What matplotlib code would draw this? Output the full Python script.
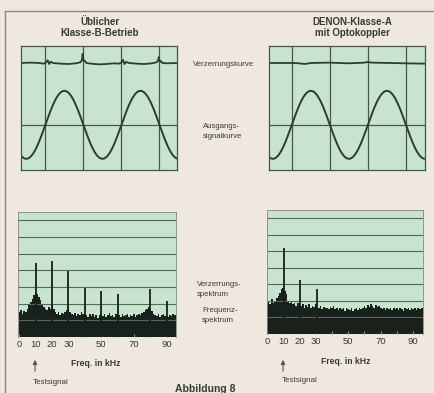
import numpy as np
import matplotlib
matplotlib.use("Agg")
import matplotlib.pyplot as plt
from matplotlib.lines import Line2D

# ---------------- data ----------------
titles_left = ["Üblicher", "Klasse-B-Betrieb"]
titles_right = ["DENON-Klasse-A", "mit Optokoppler"]

signal_freq_khz = 10.0          # test signal
signal_amplitude = 1.0
distortion_level = 1.82

# distortion trace keypoints (time in µs, offset)
dist_left_t = [-32, -20, -8, -2, 1, 3, 5, 7, 10, 20, 30, 40, 46, 48, 49, 50, 51, 52, 54, 60, 70,
               80, 90, 97, 100, 102, 104, 106, 110, 120, 130, 140, 146, 148, 149, 150, 151, 152,
               154, 160, 173]
dist_left_v = [0, 0.01, 0, -0.02, 0.02, 0.08, -0.03, 0.04, 0, -0.02, -0.03, -0.01, 0.02, 0.08,
               0.27, 0.1, 0.05, 0.06, 0, -0.02, -0.04, -0.03, -0.01, -0.02, 0.02, 0.09, -0.03,
               0.03, 0, -0.02, -0.03, -0.01, 0.02, 0.06, 0.17, 0.08, 0.04, 0.05, 0, -0.01, 0]
dist_right_t = [-30, 0, 10, 17, 25, 50, 75, 95, 100, 105, 130, 150, 175]
dist_right_v = [0, 0, -0.01, -0.03, 0, 0.01, -0.01, 0.01, 0.03, 0.01, 0, -0.01, -0.02]

freq_khz = list(range(0, 97))
noise_left = [1.5, 1.6, 1.4, 1.55, 1.5, 1.7, 1.9, 2.1, 2.3, 2.5, 2.7, 2.6, 2.4, 2.2, 1.9, 1.8, 1.7,
              1.6, 1.8, 1.7, 2.0, 1.7, 1.5, 1.4, 1.5, 1.3, 1.45, 1.35, 1.5, 1.6, 1.85, 1.5, 1.4,
              1.3, 1.45, 1.25, 1.4, 1.3, 1.5, 1.35, 1.4, 1.3, 1.2, 1.35, 1.25, 1.4, 1.2, 1.3,
              1.15, 1.3, 1.4, 1.25, 1.35, 1.2, 1.3, 1.45, 1.25, 1.3, 1.2, 1.35, 1.5, 1.3, 1.2,
              1.35, 1.25, 1.3, 1.4, 1.2, 1.3, 1.25, 1.35, 1.2, 1.3, 1.4, 1.3, 1.45, 1.5, 1.6,
              1.7, 1.8, 1.7, 1.55, 1.4, 1.3, 1.25, 1.35, 1.2, 1.3, 1.4, 1.25, 1.35, 1.2, 1.3,
              1.25, 1.4, 1.3, 1.35]
noise_right = [1.9, 2.0, 1.8, 2.1, 1.9, 2.0, 2.2, 2.3, 2.5, 2.7, 2.8, 2.6, 2.4, 2.0, 1.9, 2.0,
               1.8, 1.9, 1.7, 1.85, 1.9, 1.7, 1.8, 1.6, 1.75, 1.65, 1.8, 1.6, 1.7, 1.65, 1.8, 1.6,
               1.55, 1.7, 1.5, 1.65, 1.55, 1.6, 1.5, 1.65, 1.55, 1.7, 1.5, 1.6, 1.45, 1.6, 1.5,
               1.55, 1.4, 1.55, 1.5, 1.45, 1.6, 1.4, 1.5, 1.55, 1.45, 1.6, 1.5, 1.55, 1.7, 1.6,
               1.75, 1.65, 1.8, 1.7, 1.6, 1.75, 1.65, 1.7, 1.6, 1.5, 1.55, 1.45, 1.6, 1.5, 1.55,
               1.45, 1.6, 1.5, 1.55, 1.45, 1.6, 1.5, 1.4, 1.55, 1.5, 1.6, 1.45, 1.55, 1.5, 1.6,
               1.45, 1.55, 1.5, 1.6, 1.55]

spike_left_f = [10, 20, 30, 40, 50, 60, 80, 90]
spike_left_h = [4.44, 4.56, 3.96, 2.94, 2.76, 2.58, 2.88, 2.16]
spike_right_f = [10.5, 20.5, 30.5]
spike_right_h = [5.2, 3.27, 2.72]

xtick_vals = [0, 10, 20, 30, 40, 50, 60, 70, 80, 90]
xtick_labels = ["0", "10", "20", "30", "", "50", "", "70", "", "90"]

# ---------------- style ----------------
W, H = 435, 393
PAPER = "#eee8df"
GREEN = "#c8e4cf"
TRACE = "#2b3e31"
GRID = "#44574a"
BLACK = "#18211b"
TEXT = "#3a3a38"

fig = plt.figure(figsize=(W / 100, H / 100), dpi=100, facecolor=PAPER)
plt.rcParams["font.family"] = ["Liberation Sans", "DejaVu Sans"]


def box(x0, y0, x1, y1):
    return [x0 / W, 1 - y1 / H, (x1 - x0) / W, (y1 - y0) / H]


def ftext(x, y, s, **kw):
    fig.text(x / W, 1 - y / H, s, color=TEXT, **kw)


# frame rules
fig.add_artist(Line2D([5 / W, 1], [1 - 11 / H, 1 - 11 / H], color="#8d8880", lw=1.0))
fig.add_artist(Line2D([5 / W, 5 / W], [0, 1 - 11 / H], color="#8d8880", lw=1.0))


def scope(rect, xlim, dist_t, dist_v):
    ax = fig.add_axes(rect)
    ax.set_facecolor(GREEN)
    ax.set_xlim(*xlim)
    ax.set_ylim(-1.33, 2.32)
    for g in [0, 50, 100, 150]:
        ax.axvline(g, color=GRID, lw=0.9)
    ax.axhline(0, color=GRID, lw=0.9)
    t = np.linspace(xlim[0], xlim[1], 600)
    ax.plot(t, signal_amplitude * np.sin(2 * np.pi * signal_freq_khz * t / 1000.0),
            color=TRACE, lw=1.4)
    ax.plot(dist_t, [distortion_level + v for v in dist_v], color=TRACE, lw=1.3)
    ax.set_xticks([])
    ax.set_yticks([])
    for s in ax.spines.values():
        s.set_color(GRID)
        s.set_linewidth(0.9)
    return ax


axL = scope(box(21, 46, 177, 170), (-32, 173), dist_left_t, dist_left_v)
axR = scope(box(269, 46, 425, 170), (-30, 175), dist_right_t, dist_right_v)


def spectrum(rect, xlim, noise, sf, sh):
    ax = fig.add_axes(rect)
    ax.set_facecolor(GREEN)
    ax.set_xlim(*xlim)
    ax.set_ylim(0, 7.5)
    for g in range(1, 8):
        ax.axhline(g, color="#56665b", lw=0.8)
    ax.fill_between(freq_khz, 0, noise, step="mid", color=BLACK, lw=0)
    ax.vlines(sf, 0, sh, color=BLACK, lw=1.3)
    ax.set_yticks([])
    ax.set_xticks(xtick_vals)
    ax.set_xticklabels(xtick_labels)
    ax.tick_params(axis="x", direction="in", length=2.5, width=0.8, color="#8a958d",
                   pad=2.5, labelsize=6.8, labelcolor=TEXT)
    for s in ax.spines.values():
        s.set_color("#7d8a80")
        s.set_linewidth(0.6)
    ax.spines["bottom"].set_visible(False)
    return ax


spL = spectrum(box(18, 212, 176, 337), (-0.8, 95.7), noise_left, spike_left_f, spike_left_h)
spR = spectrum(box(267, 210, 423, 334), (0.2, 96.0), noise_right, spike_right_f, spike_right_h)

# titles
ftext(100, 22, titles_left[0], ha="center", va="center", fontsize=7, fontweight="bold")
ftext(100, 33, titles_left[1], ha="center", va="center", fontsize=7, fontweight="bold")
ftext(352, 22, titles_right[0], ha="center", va="center", fontsize=7, fontweight="bold")
ftext(352, 33, titles_right[1], ha="center", va="center", fontsize=7, fontweight="bold")

# middle labels
ftext(224, 65, "Verzerrungskurve", ha="center", va="center", fontsize=5.6)
ftext(203, 126, "Ausgangs-", ha="left", va="center", fontsize=5.6)
ftext(203, 136, "signalkurve", ha="left", va="center", fontsize=5.6)
ftext(197, 285, "Verzerrungs-", ha="left", va="center", fontsize=5.6)
ftext(197, 294, "spektrum", ha="left", va="center", fontsize=5.6)
ftext(202, 311, "Frequenz-", ha="left", va="center", fontsize=5.6)
ftext(202, 320, "spektrum", ha="left", va="center", fontsize=5.6)

# axis captions
ftext(96, 364, "Freq. in kHz", ha="center", va="center", fontsize=6.2, fontweight="bold")
ftext(346, 362, "Freq. in kHz", ha="center", va="center", fontsize=6.2, fontweight="bold")
ftext(33, 382, "Testsignal", ha="left", va="center", fontsize=5.8)
ftext(282, 380, "Testsignal", ha="left", va="center", fontsize=5.8)

for ax, x in [(spL, 35), (spR, 283)]:
    fig.add_artist(matplotlib.patches.FancyArrowPatch(
        (x / W, 1 - 374 / H), (x / W, 1 - 357 / H), transform=fig.transFigure,
        arrowstyle="-|>,head_length=2.5,head_width=1.2", color="#555", lw=0.8))

ftext(205, 389, "Abbildung 8", ha="center", va="center", fontsize=7.5, fontweight="bold")

fig.savefig("out.png", dpi=100, facecolor=PAPER)
